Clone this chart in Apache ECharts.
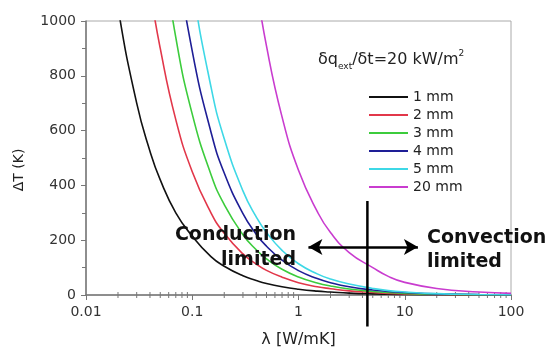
<!DOCTYPE html>
<html>
<head>
<meta charset="utf-8">
<script src="https://cdn.jsdelivr.net/npm/echarts@6/dist/echarts.min.js"></script>
<style>
  html, body { margin: 0; padding: 0; background: #fff; }
  #main { width: 554px; height: 353px; }
</style>
</head>
<body>
<div id="main"></div>
<script>
// lambda [W/mK] sample points, shared by all curves
var lam = [0.01, 0.015, 0.02, 0.03, 0.04, 0.05, 0.07, 0.1, 0.15, 0.2, 0.3, 0.4, 0.5, 0.7, 1, 1.5, 2, 3, 5, 7, 10, 20, 50, 100];
// delta T [K] (null = far above the plot)
var dT_1mm  = [2100, 1400, 1050, 700, 525, 420, 300, 215, 140, 105, 70, 53, 42, 30, 21, 14, 11, 7, 4, 3, 2, 1, 0, 0];
var dT_2mm  = [null, null, 2250, 1500, 1120, 900, 640, 450, 300, 225, 150, 113, 90, 65, 45, 30, 23, 15, 9, 6, 4, 2, 1, 0];
var dT_3mm  = [null, null, null, 2200, 1650, 1320, 940, 660, 440, 330, 220, 165, 132, 94, 66, 44, 33, 22, 13, 9, 6, 3, 1, 0];
var dT_4mm  = [null, null, null, null, 2220, 1780, 1270, 890, 595, 445, 297, 222, 178, 127, 89, 60, 45, 30, 18, 13, 9, 4, 2, 1];
var dT_5mm  = [null, null, null, null, null, 2280, 1630, 1140, 760, 570, 380, 285, 228, 163, 114, 77, 58, 40, 24, 16, 11, 5, 2, 1];
var dT_20mm = [null, null, null, null, null, null, null, null, null, null, 1510, 1135, 908, 650, 455, 305, 228, 155, 100, 68, 46, 24, 11, 6];

var seriesNames = ['1 mm', '2 mm', '3 mm', '4 mm', '5 mm', '20 mm'];
var seriesVals = [dT_1mm, dT_2mm, dT_3mm, dT_4mm, dT_5mm, dT_20mm];
var colors = ['#111111', '#e2374a', '#3ccc3c', '#1e1e96', '#3ed8e6', '#c93ccf'];

// minor log ticks on the x axis
var xMinor = [];
[0.01, 0.1, 1, 10].forEach(function (dec) {
    for (var k = 2; k <= 9; k++) xMinor.push(+(dec * k).toPrecision(3));
});

// annotation: boundary line and double arrow
var boundaryLine = [[4.45, -115], [4.45, 343]];
var arrowLine = [[1.24, 175], [13.3, 175]];

var font = '"DejaVu Sans", Verdana, sans-serif';
var myChart = echarts.init(document.getElementById('main'));

var series = seriesVals.map(function (vals, i) {
    var pts = [];
    vals.forEach(function (v, j) { if (v !== null) pts.push([lam[j], v]); });
    return {
        name: seriesNames[i],
        type: 'line',
        data: pts,
        smooth: 0.5,
        symbol: 'none',
        lineStyle: { width: 1.6, color: colors[i] },
        itemStyle: { color: colors[i] },
        z: 3
    };
});

series.push({
    name: 'boundary',
    type: 'line',
    data: boundaryLine,
    symbol: 'none',
    clip: false,
    lineStyle: { width: 2.5, color: '#000' },
    z: 5
});

series.push({
    name: 'arrow',
    type: 'line',
    data: [],
    markLine: {
        silent: true,
        symbol: ['arrow', 'arrow'],
        symbolSize: [12, 14],
        label: { show: false },
        lineStyle: { type: 'solid', color: '#000', width: 2.5 },
        data: [[{ coord: arrowLine[0] }, { coord: arrowLine[1] }]]
    },
    z: 5
});

series.push({
    name: 'minorTicks',
    type: 'custom',
    data: xMinor.map(function (v) { return [v, 0]; }),
    silent: true,
    clip: false,
    renderItem: function (params, api) {
        var p = api.coord([api.value(0), 0]);
        return {
            type: 'line',
            shape: { x1: p[0], y1: p[1] - 3, x2: p[0], y2: p[1] + 3 },
            style: { stroke: '#777', lineWidth: 1 }
        };
    },
    z: 2
});

var option = {
    animation: false,
    textStyle: { fontFamily: font },
    grid: {
        left: 86, top: 21, right: 43, bottom: 57,
        show: true, borderColor: '#aaa', borderWidth: 1
    },
    xAxis: {
        type: 'log',
        logBase: 10,
        min: 0.01,
        max: 100,
        name: 'λ [W/mK]',
        nameLocation: 'middle',
        nameGap: 37,
        nameTextStyle: { fontSize: 16, color: '#222', fontFamily: font },
        axisLine: { lineStyle: { color: '#777', width: 1.5 } },
        axisTick: { show: true, length: 5, lineStyle: { color: '#777' } },
        axisLabel: {
            fontSize: 14, color: '#333', margin: 10, fontFamily: font,
            formatter: function (v) { return String(v); }
        },
        splitLine: { show: false },
        minorTick: { show: false }
    },
    yAxis: {
        type: 'value',
        min: 0,
        max: 1000,
        interval: 200,
        axisLine: { show: true, lineStyle: { color: '#777', width: 1.5 } },
        axisTick: { show: true, length: 5, lineStyle: { color: '#777' } },
        minorTick: { show: true, splitNumber: 2, length: 4, lineStyle: { color: '#777' } },
        axisLabel: {
            fontSize: 14, color: '#333', margin: 10, fontFamily: font,
            formatter: function (v) { return String(v); }
        },
        splitLine: { show: false }
    },
    legend: {
        data: seriesNames,
        orient: 'vertical',
        left: 369,
        top: 90,
        padding: 0,
        icon: 'rect',
        itemWidth: 39,
        itemHeight: 2,
        itemGap: 4,
        textStyle: { fontSize: 14, color: '#222', fontFamily: font }
    },
    graphic: [
        {
            type: 'text',
            left: 318,
            top: 49,
            style: {
                text: '{a|δq}{s|ext}{a|/δt=20 kW/m}{p|2}',
                fill: '#222',
                font: '16px ' + font,
                rich: {
                    a: { fontSize: 16, fontFamily: font, fill: '#222', lineHeight: 22, verticalAlign: 'middle' },
                    s: { fontSize: 9, fontFamily: font, fill: '#222', lineHeight: 22, verticalAlign: 'bottom' },
                    p: { fontSize: 9, fontFamily: font, fill: '#222', lineHeight: 22, verticalAlign: 'top' }
                }
            },
            z: 10
        },
        {
            type: 'text',
            x: 19,
            y: 170,
            rotation: Math.PI / 2,
            style: {
                text: 'ΔT (K)',
                fill: '#222',
                font: '14px ' + font,
                align: 'center',
                verticalAlign: 'middle'
            }
        },
        {
            type: 'text',
            x: 296,
            y: 248,
            style: {
                text: 'Conduction\nlimited',
                fill: '#111',
                font: 'bold 19px ' + font,
                align: 'right',
                verticalAlign: 'middle',
                lineHeight: 25
            },
            z: 10
        },
        {
            type: 'text',
            x: 427,
            y: 250,
            style: {
                text: 'Convection\nlimited',
                fill: '#111',
                font: 'bold 19px ' + font,
                align: 'left',
                verticalAlign: 'middle',
                lineHeight: 24
            },
            z: 10
        }
    ],
    series: series
};

myChart.setOption(option);
</script>
</body>
</html>
